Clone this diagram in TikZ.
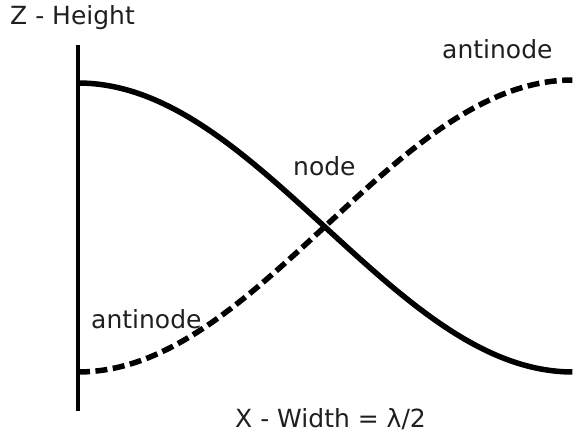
\documentclass[tikz,border=0pt]{standalone}
\usepackage{fontspec}
\setmainfont{DejaVu Sans}
\begin{document}
\begin{tikzpicture}[x=1pt,y=-1pt,
  lbl/.style={anchor=base west,inner sep=0pt,text=black!88,font=\fontsize{25}{30}\selectfont},
  axisline/.style={line width=3.5pt},
  wavesolid/.style={line width=5.5pt},
  wavedash/.style={line width=5.5pt,dash pattern=on 12pt off 5.5pt}]
\useasboundingbox (0,0) rectangle (573,435);
\coordinate (axtop) at (78,45);
\coordinate (axbot) at (78,411);
\draw[axisline] (axtop) -- (axbot);
\draw[wavesolid] plot[domain=0:1,samples=120,smooth] ({78+495*\x},{227.5-144.5*cos(180*\x)});
\draw[wavedash] plot[domain=0:1,samples=120,smooth] ({78+495*\x},{226+146*cos(180*\x)});
\node[lbl] (zlab) at (10,25) {Z - Height};
\node[lbl] (antitop) at (442,59) {antinode};
\node[lbl] (nodelab) at (293,176) {node};
\node[lbl] (antibot) at (91,329) {antinode};
\node[lbl] (xlab) at (235,428) {X - Width = λ/2};
\end{tikzpicture}
\end{document}
